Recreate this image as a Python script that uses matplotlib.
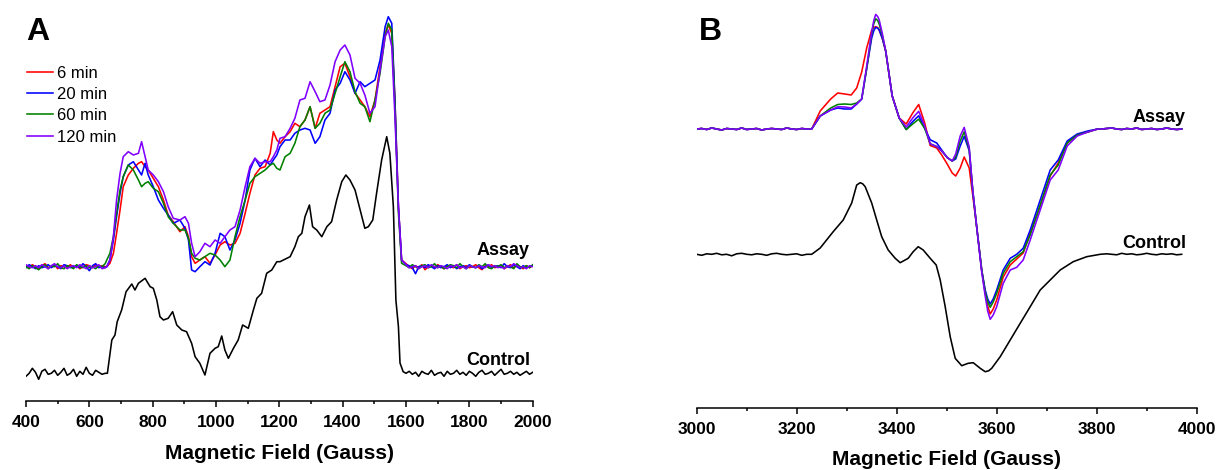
import matplotlib

matplotlib.use("Agg")
import matplotlib.pyplot as plt
import numpy as np
from matplotlib.ticker import MultipleLocator

plt.rcParams["font.family"] = ["Liberation Sans", "DejaVu Sans"]

# ---- panel A (400-2000 G) ----
TIMES = ["6 min", "20 min", "60 min", "120 min"]
COLORS = ["#ff0000", "#0000ff", "#008000", "#8000ff"]

A_LEFT_FIELD = np.arange(400, 651, 10)
A_RIGHT_FIELD = np.arange(1600, 2001, 10)

A_SIG_FIELD = [655, 665, 676, 686, 697, 707, 723, 739, 755, 765, 776, 786, 802, 818, 834, 849, 865, 886,
               902, 913, 923, 934, 949, 965, 981, 997, 1013, 1028, 1044, 1060, 1076, 1092, 1107, 1123, 1139,
               1155, 1171, 1181, 1192, 1202, 1218, 1234, 1249, 1265, 1281, 1297, 1313, 1328, 1344, 1360,
               1376, 1392, 1407, 1423, 1439, 1455, 1470, 1486, 1502, 1518, 1534, 1544, 1555, 1565, 1576, 1586]

A_6MIN = [0, 3.4, 13.4, 33.4, 56.7, 80, 91.7, 98.4, 103.4, 105, 100, 96.7, 88.4, 80, 66.7, 51.7, 45, 35,
          40, 30, 10, 3.4, 6.7, 10, 3.4, 11.7, 21.7, 25, 21.7, 23.4, 33.4, 53.4, 73.4, 91.7, 98.4,
          100, 113.4, 135, 126.7, 123.4, 130, 135, 143.4, 140, 146.7, 160, 138.4, 153.4, 156.7,
          160, 180, 200, 203.4, 190, 173.4, 166.7, 160, 150, 166.7, 200, 233.4, 241.7, 233.4, 166.7, 60, 6.7]
A_20MIN = [0, 6.7, 26.7, 50, 73.4, 90, 101.7, 105, 96.7, 91.7, 103.4, 91.7, 80, 66.7, 58.4, 51.7, 43.4, 46.7,
           38.4, 26.7, -3.3, -5, 0, 5, 1.7, 13.4, 33.4, 30, 16.7, 26.7, 43.4, 66.7, 96.7, 108.4, 100,
           106.7, 101.7, 106.7, 111.7, 120, 126.7, 126.7, 133.4, 136.7, 138.4, 136.7, 123.4, 130, 146.7,
           153.4, 176.7, 183.4, 195, 186.7, 173.4, 185, 180, 183.4, 186.7, 206.7, 240, 250, 243.4, 166.7, 60, 6.7]
A_60MIN = [6.7, 13.4, 30, 53.4, 76.7, 90, 101.7, 96.7, 86.7, 80, 83.4, 85, 78.4, 75, 63.4, 50, 43.4, 36.7,
           36.7, 28.4, 13.4, 8.4, 6.7, 10, 13.4, 11.7, 6.7, 0, 6.7, 30, 50, 66.7, 83.4, 90, 93.4,
           96.7, 101.7, 103.4, 98.4, 96.7, 110, 113.4, 123.4, 140, 146.7, 160, 138.4, 143.4, 153.4,
           156.7, 173.4, 190, 205, 195, 175, 163.4, 160, 145, 166.7, 193.4, 230, 243.4, 236.7, 160, 53.4, 3.4]
A_120MIN = [0, 6.7, 30, 66.7, 93.4, 110, 115, 111.7, 113.4, 125, 110, 96.7, 91.7, 85, 75, 60, 48.4, 46.7,
            50, 43.4, 23.4, 10, 15, 23.4, 20, 26.7, 23.4, 30, 36.7, 40, 56.7, 80, 100, 108.4, 103.4,
            105, 105, 110, 116.7, 128.4, 130, 138.4, 148.4, 166.7, 168.4, 185, 175, 165, 166.7,
            181.7, 205, 216.7, 221.7, 211.7, 188.4, 183.4, 171.7, 153.4, 160, 196.7, 230, 236.7, 220, 150, 60, 6.7]

# baseline wiggles (left: 400-650 G, right: 1600-2000 G)
A_NOISE_LEFT = [
    [1, -1, 2, 0, -2, 1, 3, -1, 0, 2, -2, 1, 0, -1, 2, -1, 1, -2, 0, 2, 1, -1, 2, 0, 1, 0],
    [-1, 2, 0, -2, 1, -1, 0, 2, -1, 1, 0, -2, 2, 1, -1, 0, 1, -1, 3, 0, -4, 1, 3, -1, 0, -1],
    [0, -2, 1, -1, -3, 0, 2, -2, 1, 0, 3, -1, -2, 1, 0, -2, 2, 0, -1, 1, -1, 0, -2, 1, 0, 3],
    [2, 0, -1, 1, -1, 2, 0, -2, 1, 3, 0, -1, 1, -2, 0, 1, -1, 2, 0, -2, 1, -1, 0, 2, -2, -1],
]
A_NOISE_RIGHT = [
    [3, 0, -2, 1, -1, 2, -3, 0, 1, -1, 2, 0, -2, 1, 0, -1, 2, -2, 0, 1, -1, 0, 2, -1, -3, 1, 0, 2, -1, 0,
     1, -2, 0, 2, -1, 1, 0, -2, 1, -1, 1],
    [2, 1, -1, -7, 0, 1, -1, 2, 0, -2, 1, -1, 0, 2, -1, 1, -2, 0, 1, -1, 2, 0, -1, 1, -2, 0, 2, -1, 0, 1,
     -1, 3, 0, -1, 2, 0, -2, 1, -1, 0, 1],
    [1, -1, 2, 0, -2, 1, 2, -1, 0, 3, -1, 1, -2, 0, 2, 1, -1, 3, 0, -2, 1, 0, -1, 2, 0, 3, -1, -2, 1, 0,
     2, -1, 1, 0, -2, 3, 0, -1, 1, -1, 2],
    [2, -1, 0, 1, -2, 0, 1, -1, 2, 0, -1, 1, 0, -2, 1, 0, 2, -1, 0, -2, 1, 0, -1, 1, 0, -1, 2, 0, 1, -1,
     0, -2, 1, 0, 3, 1, -1, 0, -2, 1, 0],
]

A_CTRL_FIELD = [657, 671, 681, 688, 702, 716, 734, 744, 755, 776, 792, 802, 813, 823, 834, 849, 863, 876,
                892, 907, 923, 934, 949, 965, 981, 997, 1007, 1018, 1028, 1039, 1055, 1070, 1084, 1102,
                1118, 1129, 1144, 1160, 1176, 1192, 1202, 1234, 1249, 1260, 1271, 1281, 1295, 1305, 1318,
                1334, 1350, 1365, 1381, 1397, 1410, 1423, 1439, 1455, 1470, 1481, 1495, 1507, 1523, 1539,
                1549, 1560, 1568, 1576, 1581, 1591]
A_CTRL = [0, 33.3, 38.3, 51.6, 63.3, 81.6, 89.3, 83.3, 90, 95, 86.6, 85, 73.3, 56.6, 53.3, 55, 61.6, 48.3,
          43.3, 41.6, 30, 16.6, 10, -1.7, 20, 25, 26.6, 37.3, 23.3, 15, 25, 33.3, 48.3, 45, 63.3, 75, 80,
          100, 103.3, 111.6, 111.6, 116.6, 126.6, 136.6, 140, 156.6, 168.3, 146.6, 143.3, 136.6, 146.6,
          151.6, 173.3, 191.6, 198.3, 193.3, 183.3, 163.3, 145, 146.6, 153.3, 180, 213.3, 236.6, 220,
          166.6, 73.3, 46.6, 10.3, 1.6]
A_CTRL_NOISE_LEFT = [-3, 0, 5, 1, -6, 2, 4, -1, 0, 3, -2, 1, 5, -2, 0, 4, -3, 2, -1, 6, 0, -2, 3, 1, -1, 0]
A_CTRL_NOISE_RIGHT = [0, 2, -1, 1, -3, 2, 0, -1, 3, -2, 0, 1, -3, 2, -1, 0, 3, -1, 1, -2, 2, 0, -3, 1, 3,
                      -1, 0, 2, -2, 1, 4, -1, 0, 2, -1, 1, -2, 0, 2, -1, 1]

# ---- panel B (3000-4000 G) ----
B_LEFT_FIELD = np.arange(3000, 3221, 10)
B_RIGHT_FIELD = np.arange(3810, 3971, 10)

B_SIG_FIELD = [3230, 3247, 3268, 3282, 3296, 3309, 3320, 3330, 3340, 3350, 3354, 3358, 3362, 3365, 3371,
               3378, 3391, 3405, 3419, 3432, 3444, 3456, 3467, 3480, 3490, 3501, 3511, 3518, 3527, 3535,
               3545, 3552, 3560, 3570, 3577, 3582, 3587, 3593, 3600, 3613, 3627, 3640, 3653, 3667, 3687,
               3707, 3723, 3741, 3761, 3782, 3802]
B_6MIN = [0, 18, 30, 36, 35, 34, 41, 57, 81, 99, 101.5, 102.3, 101.5, 99, 91, 78, 33, 11, 5, 16, 24.5, 6,
          -16.5, -19, -26, -35, -44, -47, -39, -28, -39, -66, -98, -141, -164, -177, -185, -180, -171, -148,
          -136, -130, -124, -104, -77, -47, -34, -14, -6, -3, 0]
B_20MIN = [0, 13, 19, 21, 20, 20, 25, 30, 60.5, 91, 98, 101.6, 100.8, 99, 91, 78, 33, 11, -0.5, 7.4, 13.2,
           0.6, -10.7, -14, -21, -28.5, -32, -30, -17, -7.3, -21.7, -61, -98, -141, -161, -170, -175, -170,
           -161, -141, -129.3, -125.3, -119.3, -101, -71, -41, -31, -12, -5, -2, 0]
B_60MIN = [0, 13, 21, 24.5, 25, 24.5, 26, 30, 60.5, 95, 105, 110.2, 108.5, 105, 94, 78, 33, 11, -0.5, 5, 9.8,
           0.6, -14.8, -17.6, -22, -28.5, -32, -28, -12, -2.8, -20, -61, -98, -141, -163, -173, -178.3, -173,
           -164.3, -144.3, -132.7, -127.7, -122.7, -106, -76, -46, -36, -14, -6, -3, 0]
B_120MIN = [0, 13, 19, 22.2, 22, 21, 25, 30, 63, 97, 108, 114.6, 112.5, 109, 96, 78, 33, 11, 2, 11, 17.7, 3,
            -14.8, -17.6, -22, -28.5, -32, -25, -7, 1.6, -18, -61, -98, -143, -167, -182, -190.3, -186,
            -177.7, -154.3, -141, -138.3, -131, -111, -81, -51, -41, -17, -7, -3, 0]
B_RIPPLE_LEFT = [0, 0.5, -0.5, 1, 0, -1, 0.5, 0, -0.5, 1, -0.5, 0, 0.5, -1, 0, 0.5, 0, -0.5, 1, 0, -0.5, 0.5, 0]
B_RIPPLE_RIGHT = [0, 0.5, 1, 0, -0.5, 0.5, 0, 1, -0.5, 0, 0.5, -0.5, 0, 1, 0, -0.5, 0]

B_CTRL_FIELD = [3230, 3247, 3273, 3293, 3310, 3320, 3327, 3332, 3337, 3350, 3360, 3370, 3383, 3397, 3407,
                3423, 3433, 3443, 3453, 3467, 3479, 3487, 3497, 3507, 3517, 3530, 3543, 3553, 3567, 3577,
                3584, 3590, 3607, 3627, 3647, 3667, 3687, 3707, 3727, 3753, 3780, 3807]
B_CTRL = [0, 6.3, 22.6, 34.3, 51.3, 69.3, 71.6, 70.5, 67.6, 51.3, 34.3, 17.6, 4.3, -4, -8.4, -4, 2.6, 7.6,
          4.3, -4, -10.7, -25.7, -52.4, -82.4, -104, -111.4, -109, -108.4, -114, -117.4, -116.5, -114,
          -102.4, -85.7, -69, -52.4, -35.7, -25.7, -15.7, -7.4, -2.4, 0]
B_CTRL_RIPPLE_LEFT = [0, -1, 0.5, 0, 1, -0.5, 0, -1.5, 0.5, 1, 0, -0.5, 0.5, 0, -1, 0.5, 1, 0, -0.5, 0, 0.5, -1, 0]
B_CTRL_FIELD_RIGHT = np.arange(3820, 3971, 10)
B_CTRL_RIPPLE_RIGHT = [0.5, 0, -0.5, 1, 0, 0.5, -0.5, 0, 1, 0, -0.5, 0.5, 0, 0.5, -0.5, 0]

W, H = 1217, 470
LW = 1.15


def trace(left_x, left_y, mid_x, mid_y, right_x, right_y):
    x = np.concatenate([left_x, mid_x, right_x])
    y = np.concatenate([left_y, mid_y, right_y])
    return x, y


def style_axis(ax, lim, ticks):
    ax.set_xlim(*lim)
    for side in ("left", "right", "top"):
        ax.spines[side].set_visible(False)
    ax.spines["bottom"].set_linewidth(1.1)
    ax.set_yticks([])
    ax.set_xticks(ticks)
    ax.set_xticklabels([str(t) for t in ticks], fontsize=12.5, fontweight="bold")
    ax.xaxis.set_minor_locator(MultipleLocator(100))
    ax.tick_params(axis="x", which="major", direction="out", length=4.3, width=1.1, pad=6)
    ax.tick_params(axis="x", which="minor", direction="out", length=2.4, width=1.1)


fig = plt.figure(figsize=(W / 100, H / 100), dpi=100)

# ---- A ----
axA = fig.add_axes([26 / W, (H - 400.7) / H, 506.7 / W, 400.7 / H])
A_ASSAY_OFF, A_CTRL_OFF = 134.0, 27.4
assay_a = [A_6MIN, A_20MIN, A_60MIN, A_120MIN]
for i, vals in enumerate(assay_a):
    x, y = trace(A_LEFT_FIELD, A_NOISE_LEFT[i], A_SIG_FIELD, vals, A_RIGHT_FIELD, A_NOISE_RIGHT[i])
    axA.plot(x, y + A_ASSAY_OFF, color=COLORS[i], lw=LW, label=TIMES[i])
x, y = trace(A_LEFT_FIELD, A_CTRL_NOISE_LEFT, A_CTRL_FIELD, A_CTRL, A_RIGHT_FIELD, A_CTRL_NOISE_RIGHT)
axA.plot(x, y + A_CTRL_OFF, color="black", lw=LW)
axA.set_ylim(0, 400.7)
style_axis(axA, (400, 2000), list(range(400, 2001, 200)))
axA.set_xlabel("Magnetic Field (Gauss)", fontsize=15, fontweight="bold", labelpad=10)
axA.text(1991, 145.7, "Assay", ha="right", va="baseline", fontsize=13, fontweight="bold")
axA.text(1991, 35.7, "Control", ha="right", va="baseline", fontsize=13, fontweight="bold")
axA.legend(loc="upper left", bbox_to_anchor=(27 / W, 1 - 65.5 / H), bbox_transform=fig.transFigure,
           frameon=False, fontsize=12, handlelength=1.55, handletextpad=0.25, labelspacing=0.38,
           borderpad=0, borderaxespad=0)

# ---- B ----
axB = fig.add_axes([696.7 / W, (H - 407.7) / H, 500 / W, 407.7 / H])
B_ASSAY_OFF, B_CTRL_OFF = 278.7, 153.4
assay_b = [B_6MIN, B_20MIN, B_60MIN, B_120MIN]
for i, vals in enumerate(assay_b):
    x, y = trace(B_LEFT_FIELD, B_RIPPLE_LEFT, B_SIG_FIELD, vals, B_RIGHT_FIELD, B_RIPPLE_RIGHT)
    axB.plot(x, y + B_ASSAY_OFF, color=COLORS[i], lw=LW)
x, y = trace(B_LEFT_FIELD, B_CTRL_RIPPLE_LEFT, B_CTRL_FIELD, B_CTRL, B_CTRL_FIELD_RIGHT, B_CTRL_RIPPLE_RIGHT)
axB.plot(x, y + B_CTRL_OFF, color="black", lw=LW)
axB.set_ylim(0, 407.7)
style_axis(axB, (3000, 4000), list(range(3000, 4001, 200)))
axB.set_xlabel("Magnetic Field (Gauss)", fontsize=15, fontweight="bold", labelpad=9)
axB.text(3977, 286.1, "Assay", ha="right", va="baseline", fontsize=13, fontweight="bold")
axB.text(3979, 159.4, "Control", ha="right", va="baseline", fontsize=13, fontweight="bold")

fig.text(26 / W, 1 - 16.7 / H, "A", ha="left", va="top", fontsize=23, fontweight="bold")
fig.text(698.8 / W, 1 - 17 / H, "B", ha="left", va="top", fontsize=23, fontweight="bold")

fig.savefig("out.png", dpi=100)
